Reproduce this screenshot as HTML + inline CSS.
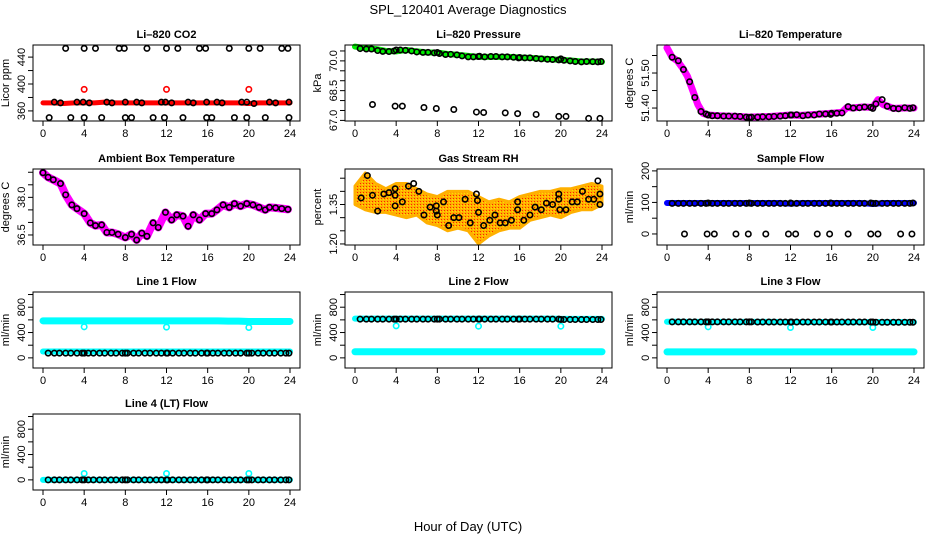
<!DOCTYPE html>
<html><head><meta charset="utf-8"><style>
html,body{margin:0;padding:0;background:#fff;}
svg{display:block;font-family:"Liberation Sans",sans-serif;}
</style></head><body>
<svg id="chart" width="936" height="540" viewBox="0 0 936 540" xmlns="http://www.w3.org/2000/svg">
<defs>
<pattern id="rhpat" width="3" height="3" patternUnits="userSpaceOnUse"><rect width="3" height="3" fill="#ffb000"/><rect width="1" height="1" fill="#ff2000"/><rect x="2" y="1" width="1" height="1" fill="#ffe000"/></pattern>
</defs>
<text x="468" y="14" text-anchor="middle" font-size="13">SPL_120401  Average Diagnostics</text>
<text x="468" y="531" text-anchor="middle" font-size="13">Hour of Day (UTC)</text>
</svg>
<script>
// ---- shared sample times (hours) ----
const sampleHours=[0.5,1.1,1.6,2.2,2.7,3.3,3.8,4.0,4.4,4.9,5.5,6.0,6.6,7.1,7.7,8.0,8.2,8.8,9.3,9.9,10.4,11.0,11.5,12.0,12.1,12.6,13.2,13.7,14.3,14.8,15.4,15.9,16.0,16.5,17.0,17.6,18.1,18.7,19.2,19.8,20.0,20.3,20.9,21.4,22.0,22.5,23.1,23.6,23.9];
const bandHours=[0,1,2,3,4,5,6,7,8,9,10,11,12,13,14,15,16,17,18,19,20,21,22,23,24];
const xTicks=[0,4,8,12,16,20,24];
// ---- CO2 ----
const co2Band=[372,372,371,372,372,372,373,372,372,372,372,372,372,372,372,372,372,372,372,372,371,372,372,372,372];
const co2OutHours=[4,12,20];
const co2Out=[392,392,392];
const co2TopHours=[2.2,4,5.1,7.4,7.9,10.1,12,13.1,15.2,15.8,18.1,20,21.1,23.2,23.8];
const co2Top=[453,453,453,453,453,453,453,453,453,453,453,453,453,453,453];
const co2MidHours=[1.1,1.7,3.3,3.9,4.5,6.2,6.7,8,9.1,9.6,11.5,11.9,12.5,14.1,14.6,15.9,16.9,17.4,19.3,19.8,20.5,22,22.6,23.9];
const co2Mid=[373,372,373,373,372,373,372,373,373,372,373,373,372,373,372,373,373,372,373,373,371,373,372,373];
const co2LowHours=[0.6,2.7,4,5.7,8,8.6,10.7,11.8,13.6,15.9,16.4,18.6,19.8,21.6,23.9];
const co2Low=[350,350,350,350,350,350,350,350,350,350,350,350,350,350,350];
// ---- Pressure ----
const presBand=[70.72,70.64,70.6,70.5,70.48,70.55,70.48,70.42,70.42,70.35,70.3,70.25,70.2,70.2,70.2,70.2,70.17,70.15,70.12,70.08,70.05,70.02,69.97,69.97,69.95];
const presBlack=[70.62,70.6,70.6,70.52,70.48,70.47,70.5,70.55,70.55,70.53,70.5,70.45,70.43,70.43,70.4,70.42,70.37,70.32,70.33,70.3,70.25,70.2,70.2,70.22,70.23,70.2,70.22,70.22,70.2,70.2,70.18,70.15,70.17,70.15,70.15,70.12,70.1,70.08,70.07,70.05,70.1,70.03,70.0,69.97,69.95,69.97,69.96,69.95,69.97];
const presLowHours=[1.7,3.9,4.6,6.7,7.9,9.6,11.8,12.5,14.6,15.8,17.6,19.8,20.5,22.7,23.8];
const presLow=[67.8,67.72,67.72,67.65,67.6,67.55,67.42,67.4,67.38,67.34,67.3,67.2,67.2,67.1,67.1];
// ---- Li-820 Temperature ----
const tempBandHours=[0,0.5,1,1.5,2,2.5,3,3.5,4,5,6,7,8,9,10,11,12,13,14,15,16,17,17.5,18,19,20,20.5,21,22,23,24];
const tempBand=[51.572,51.545,51.535,51.515,51.49,51.45,51.41,51.385,51.38,51.378,51.377,51.376,51.374,51.375,51.376,51.378,51.38,51.379,51.381,51.383,51.385,51.388,51.402,51.4,51.403,51.402,51.424,51.41,51.399,51.4,51.4];
const tempBlack=[51.545,51.535,51.51,51.475,51.43,51.39,51.383,51.38,51.378,51.378,51.377,51.377,51.377,51.376,51.374,51.373,51.374,51.374,51.375,51.375,51.376,51.377,51.378,51.38,51.38,51.381,51.378,51.38,51.38,51.383,51.383,51.382,51.385,51.385,51.386,51.404,51.4,51.401,51.403,51.402,51.399,51.412,51.424,51.405,51.399,51.398,51.401,51.399,51.401];
// ---- Ambient box temperature ----
const ambHours=[0,0.5,1,1.7,2.2,2.8,3.3,4,4.6,5.1,5.7,6.2,6.7,7.3,8,8.6,9.1,9.6,10.1,10.7,11.2,11.9,12.5,13,13.6,14.1,14.6,15.2,15.8,16.4,16.9,17.5,18.1,18.6,19.2,19.8,20.4,21,21.6,22,22.6,23.2,23.8];
const ambBand=[38.98,38.8,38.7,38.55,38.1,37.7,37.55,37.35,36.98,36.87,36.9,36.6,36.6,36.53,36.4,36.53,36.3,36.57,36.45,36.98,36.8,37.4,37.1,37.3,37.25,36.85,37.3,37.1,37.35,37.35,37.5,37.7,37.6,37.75,37.65,37.75,37.7,37.6,37.5,37.6,37.58,37.55,37.52];
const ambBlack=[38.98,38.8,38.7,38.55,38.1,37.7,37.55,37.35,36.98,36.87,36.9,36.6,36.6,36.53,36.4,36.53,36.3,36.57,36.45,36.98,36.8,37.4,37.1,37.3,37.25,36.85,37.3,37.1,37.35,37.35,37.5,37.7,37.6,37.75,37.65,37.75,37.7,37.6,37.5,37.6,37.58,37.55,37.52];
// ---- Gas stream RH ----
const rhUpper=[1.42,1.47,1.43,1.41,1.43,1.43,1.41,1.39,1.38,1.40,1.40,1.40,1.38,1.36,1.37,1.36,1.38,1.39,1.40,1.40,1.41,1.41,1.42,1.43,1.42];
const rhLower=[1.35,1.33,1.32,1.32,1.31,1.30,1.31,1.28,1.27,1.25,1.26,1.25,1.20,1.23,1.25,1.26,1.26,1.29,1.30,1.31,1.30,1.32,1.33,1.33,1.35];
const rhHours=[0.6,1.2,1.7,2.2,2.8,3.3,3.9,3.9,3.9,4.6,5.2,5.7,6.2,6.7,7.3,7.9,7.9,8,8.6,9.1,9.6,10.1,10.7,11.2,11.8,11.9,12,12.5,13.1,13.6,14.1,14.6,15.2,15.8,15.8,16.4,17,17.5,18.1,18.6,19.2,19.8,19.8,19.9,20.5,21.1,21.6,22.1,22.7,23.2,23.6,23.8,23.8];
const rhBlack=[1.375,1.46,1.385,1.325,1.39,1.395,1.41,1.385,1.345,1.36,1.42,1.43,1.4,1.31,1.34,1.345,1.325,1.31,1.36,1.27,1.3,1.3,1.37,1.28,1.39,1.365,1.32,1.27,1.29,1.31,1.28,1.28,1.29,1.33,1.36,1.29,1.31,1.34,1.33,1.355,1.35,1.39,1.37,1.33,1.33,1.36,1.36,1.4,1.37,1.37,1.44,1.39,1.35];
// ---- Sample flow ----
const sfBand=[98,98,98,98,98,98,98,98,98,98,98,98,96,98,98,98,98,98,98,98,95,98,98,98,98];
const sfBlack=[97,97,97,97,97,97,97,98,97,97,97,97,97,97,97,98,97,97,97,97,97,97,97,98,97,97,97,97,97,97,97,98,97,97,97,97,97,97,97,98,97,97,97,97,97,97,97,97,98];
const sfZeroHours=[1.7,3.9,4.6,6.7,7.9,9.6,11.8,12.5,14.6,15.8,17.6,19.8,20.5,22.7,23.8];
const sfZero=[0,0,0,0,0,0,0,0,0,0,0,0,0,0,0];
// ---- Line flows ----
const flowOutHours=[4,12,20];
const l1Upper=[585,585,585,585,585,585,585,585,585,585,585,585,585,585,585,585,585,585,580,580,575,575,575,575,575];
const l1Lower=[100,100,100,100,100,100,100,100,100,100,100,100,100,100,100,100,100,100,100,100,100,100,100,100,100];
const l1Black=[75,75,75,75,75,75,75,75,75,75,75,75,75,75,75,75,75,75,75,75,75,75,75,75,75,75,75,75,75,75,75,75,75,75,75,75,75,75,75,75,75,75,75,75,75,75,75,75,75];
const l1Out=[490,485,480];
const l2Upper=[620,620,620,620,620,620,620,620,620,620,620,620,620,620,620,620,620,620,620,620,615,615,615,615,615];
const l2Lower=[96,96,96,96,96,96,96,96,96,96,96,96,96,96,96,96,96,96,96,96,96,96,96,96,96];
const l2Black=[612,612,612,612,612,612,612,612,612,612,612,612,612,612,612,612,612,612,612,612,612,612,612,612,612,612,612,612,612,612,612,612,612,612,612,612,612,612,612,612,605,605,605,605,605,605,605,605,605];
const l2Out=[505,500,500];
const l3Upper=[570,570,568,568,568,568,568,568,568,568,568,566,566,566,566,566,566,565,565,565,565,565,565,565,565];
const l3Lower=[95,95,95,95,95,95,95,95,95,95,95,95,95,95,95,95,95,95,95,95,95,95,95,95,95];
const l3Black=[568,568,568,568,568,568,568,568,568,568,568,568,568,568,568,568,568,566,566,566,566,566,566,566,566,566,566,566,566,566,566,566,566,566,566,566,566,566,566,566,566,562,562,562,562,562,562,562,562];
const l3Out=[490,480,480];
const l4Lower=[0,0,0,0,0,0,0,0,0,0,0,0,0,0,0,0,0,0,0,0,0,0,0,0,0];
const l4Black=[0,0,0,0,0,0,0,0,0,0,0,0,0,0,0,0,0,0,0,0,0,0,0,0,0,0,0,0,0,0,0,0,0,0,0,0,0,0,0,0,0,0,0,0,0,0,0,0,0];
const l4Out=[100,100,100];
const flowTicks=[0,200,400,600,800,1000];
const flowLabels=[0,400,800];

const NS='http://www.w3.org/2000/svg';
const svg=document.getElementById('chart');
function mk(tag,attrs,parent){const e=document.createElementNS(NS,tag);for(const k in attrs)e.setAttribute(k,attrs[k]);(parent||svg).appendChild(e);return e;}

function panel(p){
  const g=mk('g',{});
  
  
  const W=267,H=76,L=p.left,T=p.top;
  const sx=h=>L+10+h/24*247;
  const sy=v=>T+H-(v-p.ymin)/(p.ymax-p.ymin)*H;
  const t=mk('text',{x:L+W/2,y:T-7,'text-anchor':'middle','font-size':11,'font-weight':'bold'},g);
  
  
  t.textContent=p.title;
  const yl=mk('text',{x:0,y:0,'text-anchor':'middle','font-size':11,transform:`translate(${L-24},${T+H/2}) rotate(-90)`},g);
  
  
  yl.textContent=p.ylab;
  const plot=mk('g',{},g);
  
  
  const box=mk('rect',{x:L,y:T,width:W,height:H,fill:'none',stroke:'#000','stroke-width':1},g);
  
  
  for(const h of xTicks){
    const tk=mk('line',{x1:sx(h),x2:sx(h),y1:T+H,y2:T+H+5,stroke:'#000'},g);
    
    
    const lb=mk('text',{x:sx(h),y:T+H+16,'text-anchor':'middle','font-size':11},g);
    
    
    lb.textContent=h;
  }
  for(const v of p.ticks){
    const tk=mk('line',{x1:L-5,x2:L,y1:sy(v),y2:sy(v),stroke:'#000'},g);
    
    
  }
  p.labels.forEach((v,i)=>{
    const lb=mk('text',{x:0,y:0,'text-anchor':'middle','font-size':11,transform:`translate(${L-8},${sy(v)}) rotate(-90)`},g);
    
    
    lb.textContent=p.labelText?p.labelText[i]:v;
  });
  return {g:plot,sx,sy};
}
function band(P,xs,ys,color,w,name){
  const pl=mk('polyline',{points:xs.map((h,i)=>P.sx(h)+','+P.sy(ys[i])).join(' '),fill:'none',stroke:color,'stroke-width':w,'stroke-linejoin':'round','stroke-linecap':'round'},P.g);
  
  
}
function pts(P,xs,ys,color,name){
  xs.forEach((h,i)=>{
    const c=mk('circle',{cx:P.sx(h),cy:P.sy(ys[i]),r:2.7,fill:'none',stroke:color,'stroke-width':1.6},P.g);
    
    
  });
}

// Row 1
let P=panel({name:'co2',title:'Li\u2013820 CO2',ylab:'Licor ppm',left:33,top:45,ymin:345,ymax:458,ticks:[360,380,400,420,440],labels:[360,400,440]});
band(P,bandHours,co2Band,'#ff0000',5,'co2-band');
pts(P,co2OutHours,co2Out,'#ff0000','co2-red-point');
pts(P,co2TopHours,co2Top,'#000','co2-high-point');
pts(P,co2MidHours,co2Mid,'#000','co2-point');
pts(P,co2LowHours,co2Low,'#000','co2-low-point');

P=panel({name:'pressure',title:'Li\u2013820 Pressure',ylab:'kPa',left:345,top:45,ymin:66.97,ymax:70.8,ticks:[67,67.5,68,68.5,69,69.5,70,70.5],labels:[67,68.5,70],labelText:['67.0','68.5','70.0']});
band(P,bandHours,presBand,'#00ee00',6,'pressure-band');
pts(P,sampleHours,presBlack,'#000','pressure-point');
pts(P,presLowHours,presLow,'#000','pressure-low-point');

P=panel({name:'li820-temp',title:'Li\u2013820 Temperature',ylab:'degrees C',left:657,top:45,ymin:51.363,ymax:51.58,ticks:[51.4,51.45,51.5,51.55],labels:[51.4,51.5],labelText:['51.40','51.50']});
band(P,tempBandHours,tempBand,'#ff00ff',7,'li820-temp-band');
pts(P,sampleHours,tempBlack,'#000','li820-temp-point');

// Row 2
P=panel({name:'ambient',title:'Ambient Box Temperature',ylab:'degrees C',left:33,top:169,ymin:36.1,ymax:39.13,ticks:[36.5,37,37.5,38,38.5,39],labels:[36.5,38],labelText:['36.5','38.0']});
band(P,ambHours,ambBand,'#ff00ff',8,'ambient-band');
pts(P,ambHours,ambBlack,'#000','ambient-point');

P=panel({name:'rh',title:'Gas Stream RH',ylab:'percent',left:345,top:169,ymin:1.196,ymax:1.485,ticks:[1.2,1.25,1.3,1.35,1.4,1.45],labels:[1.2,1.35],labelText:['1.20','1.35']});
{const up=bandHours.map((h,i)=>P.sx(h)+','+P.sy(rhUpper[i]));
 const lo=bandHours.map((h,i)=>P.sx(h)+','+P.sy(rhLower[i])).reverse();
 const pg=mk('polygon',{points:up.concat(lo).join(' '),fill:'url(#rhpat)',stroke:'#ffb000','stroke-width':3,'stroke-linejoin':'round'},P.g);
 
 }
pts(P,rhHours,rhBlack,'#000','rh-point');

P=panel({name:'sample-flow',title:'Sample Flow',ylab:'ml/min',left:657,top:169,ymin:-35,ymax:206,ticks:[0,50,100,150,200],labels:[0,100,200]});
band(P,bandHours,sfBand,'#0000ff',6,'sample-flow-band');
pts(P,sampleHours,sfBlack,'#000','sample-flow-point');
pts(P,sfZeroHours,sfZero,'#000','sample-flow-zero-point');

// Row 3
P=panel({name:'line1',title:'Line 1 Flow',ylab:'ml/min',left:33,top:292,ymin:-160,ymax:1040,ticks:flowTicks,labels:flowLabels});
band(P,bandHours,l1Upper,'#00ffff',7,'line1-upper-band');
band(P,bandHours,l1Lower,'#00ffff',6,'line1-lower-band');
pts(P,flowOutHours,l1Out,'#00ffff','line1-outlier');
pts(P,sampleHours,l1Black,'#000','line1-point');

P=panel({name:'line2',title:'Line 2 Flow',ylab:'ml/min',left:345,top:292,ymin:-160,ymax:1040,ticks:flowTicks,labels:flowLabels});
band(P,bandHours,l2Upper,'#00ffff',6,'line2-upper-band');
band(P,bandHours,l2Lower,'#00ffff',7,'line2-lower-band');
pts(P,flowOutHours,l2Out,'#00ffff','line2-outlier');
pts(P,sampleHours,l2Black,'#000','line2-point');

P=panel({name:'line3',title:'Line 3 Flow',ylab:'ml/min',left:657,top:292,ymin:-160,ymax:1040,ticks:flowTicks,labels:flowLabels});
band(P,bandHours,l3Upper,'#00ffff',6,'line3-upper-band');
band(P,bandHours,l3Lower,'#00ffff',7,'line3-lower-band');
pts(P,flowOutHours,l3Out,'#00ffff','line3-outlier');
pts(P,sampleHours,l3Black,'#000','line3-point');

// Row 4
P=panel({name:'line4',title:'Line 4 (LT) Flow',ylab:'ml/min',left:33,top:414,ymin:-160,ymax:1040,ticks:flowTicks,labels:flowLabels});
band(P,bandHours,l4Lower,'#00ffff',6,'line4-band');
pts(P,flowOutHours,l4Out,'#00ffff','line4-outlier');
pts(P,sampleHours,l4Black,'#000','line4-point');
</script>
</body></html>
